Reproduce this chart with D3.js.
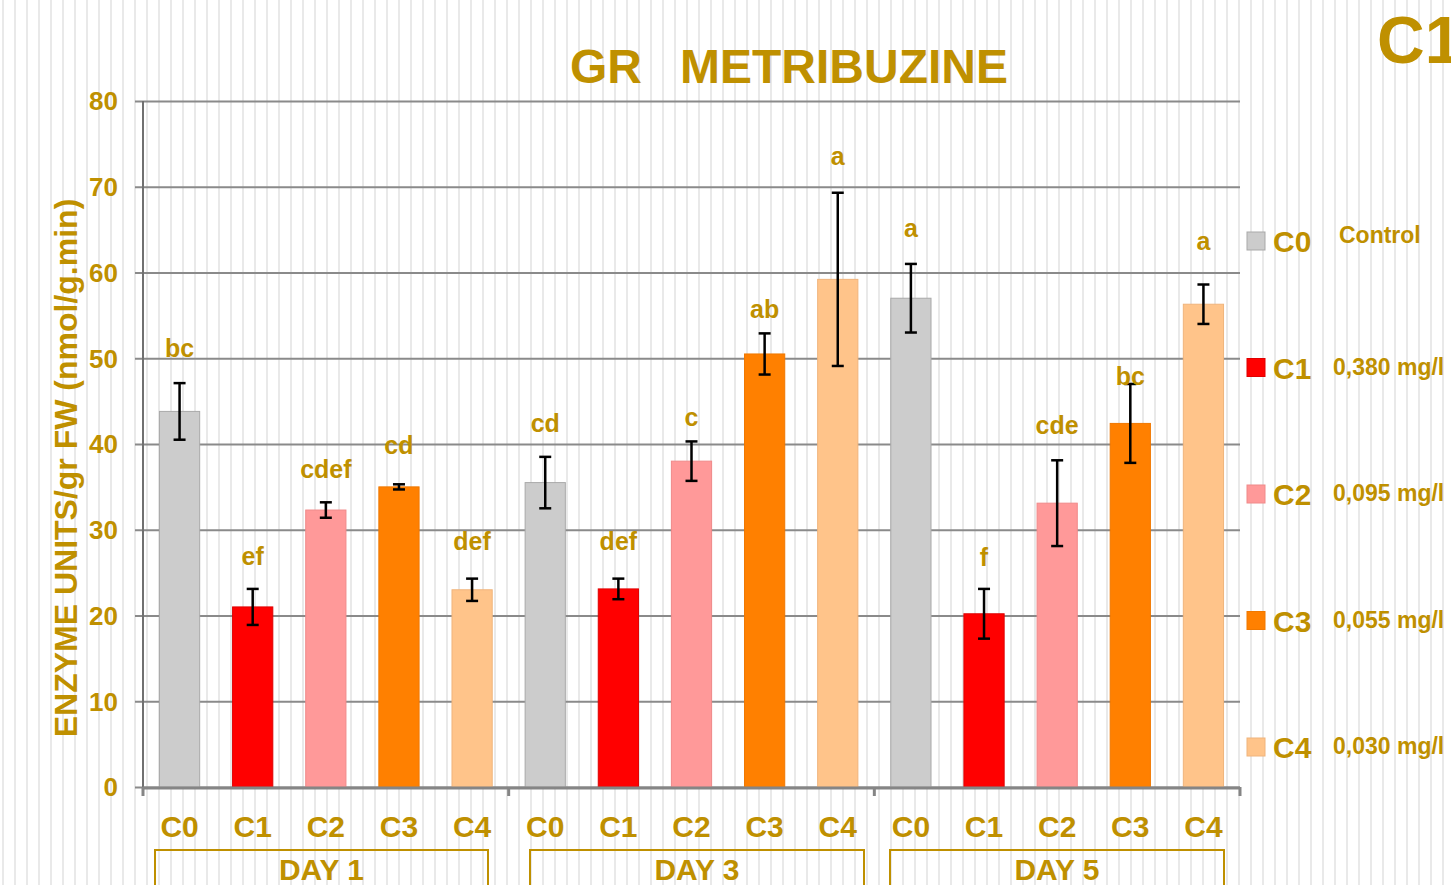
<!DOCTYPE html>
<html>
<head>
<meta charset="utf-8">
<script src="https://cdn.jsdelivr.net/npm/d3@7/dist/d3.min.js"></script>
<style>
  html, body { margin: 0; padding: 0; background: #fff; overflow: hidden; }
  svg { display: block; font-family: "Liberation Sans", Arial, sans-serif; font-weight: bold; }
</style>
</head>
<body>
<svg id="chart" width="1451" height="885"></svg>
<script>
// data
const days = ['DAY 1', 'DAY 3', 'DAY 5'];
const treatments = ['C0', 'C1', 'C2', 'C3', 'C4'];
const doses = ['Control', '0,380 mg/l', '0,095 mg/l', '0,055 mg/l', '0,030 mg/l'];
const day1Values = [43.8, 21.0, 32.3, 35.0, 23.0];
const day3Values = [35.5, 23.1, 38.0, 50.5, 59.2];
const day5Values = [57.0, 20.2, 33.1, 42.4, 56.3];
const day1Errors = [3.3, 2.1, 0.9, 0.3, 1.3];
const day3Errors = [3.0, 1.2, 2.3, 2.4, 10.1];
const day5Errors = [4.0, 2.9, 5.0, 4.6, 2.3];
const day1Letters = ['bc', 'ef', 'cdef', 'cd', 'def'];
const day3Letters = ['cd', 'def', 'c', 'ab', 'a'];
const day5Letters = ['a', 'f', 'cde', 'bc', 'a'];
// height (in enzyme units) where each letter sits
const day1LetterAt = [50.1, 25.9, 36.0, 38.8, 27.6];
const day3LetterAt = [41.4, 27.6, 42.1, 54.7, 72.5];
const day5LetterAt = [64.1, 25.8, 41.2, 46.9, 62.6];
const yTicks = [0, 10, 20, 30, 40, 50, 60, 70, 80];

const gold = '#bf9000';
const fills = ['#cccccc', '#ff0000', '#ff9999', '#ff8000', '#ffc48a'];
const strokes = ['#a9a9a9', '#e00000', '#f08a8a', '#f07800', '#f0b47c'];
// the day boxes under the axis are drawn by hand in the original, not lined up on the bars
const dayBoxes = [[155, 488], [530, 864], [890, 1224]];

const values = [day1Values, day3Values, day5Values];
const errors = [day1Errors, day3Errors, day5Errors];
const letters = [day1Letters, day3Letters, day5Letters];
const letterAt = [day1LetterAt, day3LetterAt, day5LetterAt];

const rows = [];
days.forEach((d, i) => {
    treatments.forEach((t, j) => {
        rows.push({
            key: d + '|' + t, day: d, t: t, idx: j,
            v: values[i][j], e: errors[i][j],
            letter: letters[i][j], lat: letterAt[i][j]
        });
    });
});

const svg = d3.select('#chart');
const W = 1451, H = 885;
const plotLeft = 143, plotRight = 1240, plotTop = 101, plotBottom = 787;

// striped background
svg.append('g').selectAll('line')
    .data(d3.range(3, W, 12))
    .join('line')
    .attr('x1', d => d).attr('x2', d => d)
    .attr('y1', 0).attr('y2', H)
    .attr('stroke', '#e2e2e2')
    .attr('stroke-width', 1.5);

const x = d3.scaleBand()
    .domain(rows.map(r => r.key))
    .range([plotLeft, plotRight])
    .paddingInner(0.45)
    .paddingOuter(0.225);

const y = d3.scaleLinear().domain([0, 80]).range([plotBottom, plotTop]);

// gridlines + y labels
const yAxis = svg.append('g')
    .attr('transform', `translate(${plotRight},0)`)
    .call(d3.axisLeft(y).tickValues(yTicks).tickSize(plotRight - 135).tickFormat(''));
yAxis.select('.domain').remove();
yAxis.selectAll('.tick line')
    .attr('stroke', '#8a8a8a')
    .attr('stroke-width', 2);

svg.append('g').selectAll('text')
    .data(yTicks)
    .join('text')
    .attr('x', 118)
    .attr('y', d => y(d))
    .attr('dy', '0.36em')
    .attr('text-anchor', 'end')
    .attr('fill', gold)
    .attr('font-size', 26)
    .text(d => d);

// y axis line
svg.append('line')
    .attr('x1', plotLeft).attr('x2', plotLeft)
    .attr('y1', plotTop).attr('y2', plotBottom)
    .attr('stroke', '#707070')
    .attr('stroke-width', 2);

// bars
svg.append('g').selectAll('rect')
    .data(rows)
    .join('rect')
    .attr('x', d => x(d.key))
    .attr('width', x.bandwidth())
    .attr('y', d => y(d.v))
    .attr('height', d => y(0) - y(d.v))
    .attr('fill', d => fills[d.idx])
    .attr('stroke', d => strokes[d.idx])
    .attr('stroke-width', 1);

// x axis line and group ticks
svg.append('line')
    .attr('x1', plotLeft).attr('x2', plotRight)
    .attr('y1', plotBottom + 1).attr('y2', plotBottom + 1)
    .attr('stroke', '#858585')
    .attr('stroke-width', 3);

const groupEdges = [0, 5, 10, 15].map(i => plotLeft + (plotRight - plotLeft) * i / 15);
svg.append('g').selectAll('line')
    .data(groupEdges)
    .join('line')
    .attr('x1', d => d).attr('x2', d => d)
    .attr('y1', plotBottom).attr('y2', plotBottom + 9)
    .attr('stroke', '#858585')
    .attr('stroke-width', 3);

// error bars
const eb = svg.append('g').attr('stroke', '#000').attr('stroke-width', 2.5);
rows.forEach(d => {
    const cx = x(d.key) + x.bandwidth() / 2;
    const y1 = y(d.v + d.e), y2 = y(d.v - d.e);
    eb.append('line').attr('x1', cx).attr('x2', cx).attr('y1', y1).attr('y2', y2);
    eb.append('line').attr('x1', cx - 6).attr('x2', cx + 6).attr('y1', y1).attr('y2', y1);
    eb.append('line').attr('x1', cx - 6).attr('x2', cx + 6).attr('y1', y2).attr('y2', y2);
});

// significance letters
svg.append('g').selectAll('text')
    .data(rows)
    .join('text')
    .attr('x', d => x(d.key) + x.bandwidth() / 2)
    .attr('y', d => y(d.lat))
    .attr('text-anchor', 'middle')
    .attr('fill', gold)
    .attr('font-size', 25)
    .text(d => d.letter);

// category labels
svg.append('g').selectAll('text')
    .data(rows)
    .join('text')
    .attr('x', d => x(d.key) + x.bandwidth() / 2)
    .attr('y', 837)
    .attr('text-anchor', 'middle')
    .attr('fill', gold)
    .attr('font-size', 30)
    .text(d => d.t);

// day boxes
const dayG = svg.append('g').selectAll('g')
    .data(days)
    .join('g');
dayG.append('rect')
    .attr('x', (d, i) => dayBoxes[i][0])
    .attr('y', 850)
    .attr('width', (d, i) => dayBoxes[i][1] - dayBoxes[i][0])
    .attr('height', 60)
    .attr('fill', 'none')
    .attr('stroke', gold)
    .attr('stroke-width', 2);
dayG.append('text')
    .attr('x', (d, i) => (dayBoxes[i][0] + dayBoxes[i][1]) / 2)
    .attr('y', 880)
    .attr('text-anchor', 'middle')
    .attr('fill', gold)
    .attr('font-size', 30)
    .text(d => d);

// title
svg.append('text').attr('x', 570).attr('y', 83)
    .attr('fill', gold).attr('font-size', 48).text('GR');
svg.append('text').attr('x', 680).attr('y', 83)
    .attr('fill', gold).attr('font-size', 48).text('METRIBUZINE');

svg.append('text').attr('x', 1377).attr('y', 63)
    .attr('fill', gold).attr('font-size', 66).text('C1');

// y axis title
svg.append('text')
    .attr('transform', 'translate(77,468) rotate(-90)')
    .attr('text-anchor', 'middle')
    .attr('fill', gold)
    .attr('font-size', 32)
    .text('ENZYME UNITS/gr FW (nmol/g.min)');

// legend
const leg = svg.append('g').selectAll('g')
    .data(treatments)
    .join('g')
    .attr('transform', (d, i) => `translate(1247,${241 + i * 126.5})`);
leg.append('rect')
    .attr('x', 0).attr('y', -9)
    .attr('width', 18).attr('height', 18)
    .attr('fill', (d, i) => fills[i])
    .attr('stroke', (d, i) => strokes[i])
    .attr('stroke-width', 1);
leg.append('text')
    .attr('x', 26).attr('y', 11)
    .attr('fill', gold).attr('font-size', 30)
    .text(d => d);
leg.append('text')
    .attr('x', (d, i) => i === 0 ? 92 : 86)
    .attr('y', (d, i) => i === 0 ? 2 : 7)
    .attr('fill', gold).attr('font-size', 23)
    .text((d, i) => doses[i]);
</script>
</body>
</html>
